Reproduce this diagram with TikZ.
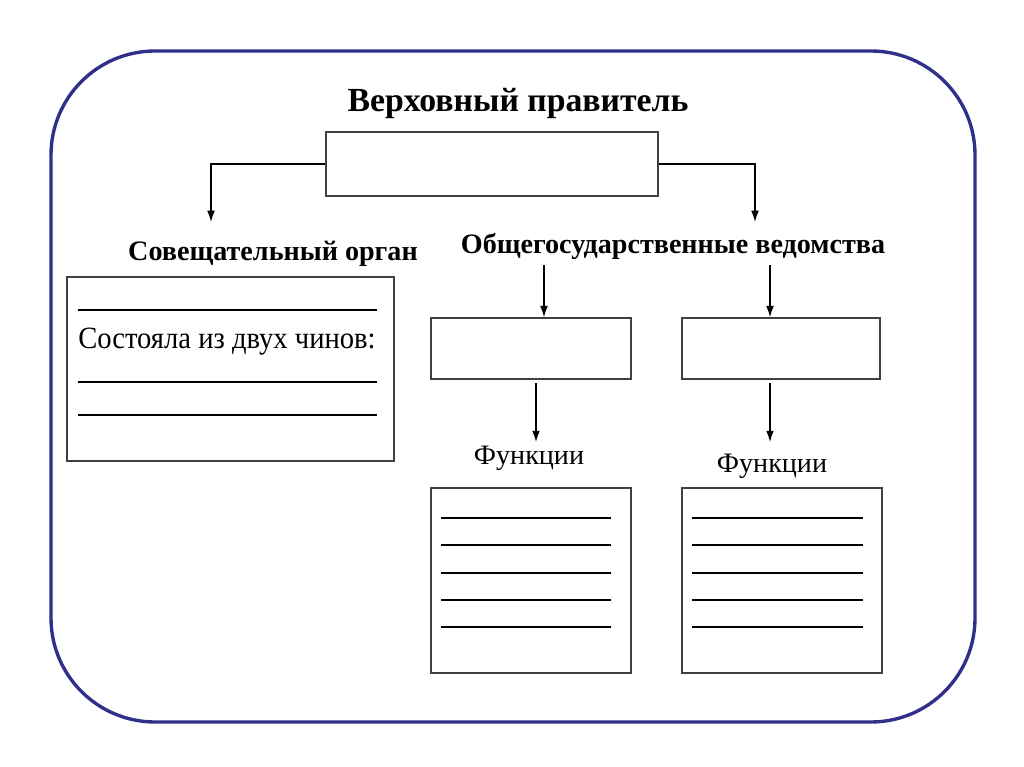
\documentclass[tikz,border=0pt]{standalone}
\usepackage{fontspec}
\setmainfont{Liberation Serif}
\usetikzlibrary{positioning,arrows.meta}
\definecolor{frameblue}{RGB}{48,48,138}
\tikzset{
  box/.style={draw=black!75, line width=1.1pt, inner sep=0pt},
  head/.style={anchor=base, inner sep=0pt, font=\bfseries\fontsize{20}{24}\selectfont},
  label/.style={anchor=base, inner sep=0pt, font=\fontsize{20}{24}\selectfont},
  arr/.style={-{Latex[length=8pt,width=5.5pt]}, line width=0.9pt},
  blank/.style={line width=1.3pt},
}

\begin{document}
\begin{tikzpicture}[x=0.025cm,y=-0.025cm]
  \useasboundingbox (0,0) rectangle (1024,767);
  % Frame
  \draw[frameblue, line width=2.4pt, rounded corners=2.6cm] (51,51) rectangle (975,722);
  % Nodes
  \node[box, minimum width=8.3cm, minimum height=1.6cm] (ruler) at (492,164) {}; %
  \node[head, font=\bfseries\fontsize{24}{28}\selectfont] (title) at (518,112) {Верховный правитель}; %
  \node[head] (council) at (273,260) {Совещательный орган}; %
  \node[head] (depts) at (673,254) {Общегосударственные ведомства}; %
  \node[box, minimum width=8.175cm, minimum height=4.6cm] (cbox) at (230.5,369) {}; %
  \node[anchor=base west, inner sep=0pt, font=\fontsize{22}{26}\selectfont] (ranks) at (78,348) {\scalebox{0.925}[1]{Состояла из двух чинов:}}; %
  \node[box, minimum width=5cm, minimum height=1.525cm] (dep1) at (531,348.5) {}; %
  \node[box, minimum width=4.95cm, minimum height=1.525cm] (dep2) at (781,348.5) {}; %
  \node[label] (fun1) at (529,464) {Функции}; %
  \node[label] (fun2) at (772,472) {Функции}; %
  \node[box, minimum width=5cm, minimum height=4.625cm] (fbox1) at (531,580.5) {}; %
  \node[box, minimum width=5cm, minimum height=4.625cm] (fbox2) at (782,580.5) {}; %
  % Arrow ends
  \coordinate (cTip) at (211,222);
  \coordinate (dTip) at (755,222);
  \coordinate (d1s) at (544,265);
  \coordinate (d2s) at (770,265);
  \coordinate (f1s) at (536,383);
  \coordinate (f1e) at (536,442);
  \coordinate (f2s) at (770,383);
  \coordinate (f2e) at (770,442);
  % Edges
  \draw[arr] (ruler.west) -| (cTip); %
  \draw[arr] (ruler.east) -| (dTip); %
  \draw[arr] (d1s) -- (d1s |- dep1.north); %
  \draw[arr] (d2s) -- (d2s |- dep2.north); %
  \draw[arr] (f1s) -- (f1e); %
  \draw[arr] (f2s) -- (f2e); %
  % Blanks
  \foreach \y in {310,382,415}
    \draw[blank] (78,\y) -- (377,\y);
  \foreach \y in {518,545,573,600,627} {
    \draw[blank] (441,\y) -- (611,\y);
    \draw[blank] (692,\y) -- (863,\y);
  }
\end{tikzpicture}
\end{document}
